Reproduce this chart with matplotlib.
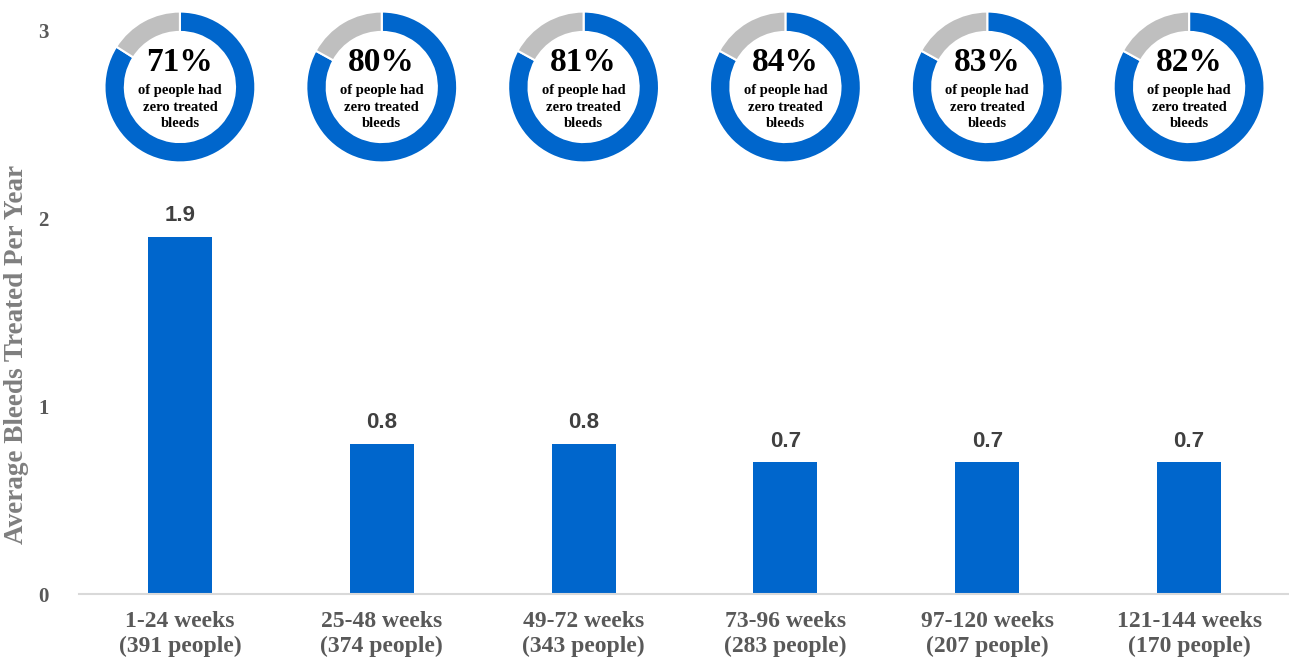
import matplotlib.pyplot as plt

# periods on the x axis
periods = ['1-24 weeks\n(391 people)', '25-48 weeks\n(374 people)', '49-72 weeks\n(343 people)',
           '73-96 weeks\n(283 people)', '97-120 weeks\n(207 people)', '121-144 weeks\n(170 people)']
# average treated bleeds per year
bleeds = [1.9, 0.8, 0.8, 0.7, 0.7, 0.7]
# share with zero treated bleeds (labels)
zero_pct = [71, 80, 81, 84, 83, 82]
# blue share of each ring as drawn in the picture
ring_fill = [0.84, 0.83, 0.83, 0.83, 0.83, 0.83]

blue = '#0066CC'
grey_ring = '#BFBFBF'
serif = 'Liberation Serif'

fig = plt.figure(figsize=(12.89, 6.62), dpi=100)
ax = fig.add_axes([79 / 1289, 68 / 662, 1211 / 1289, 564 / 662])

x = list(range(len(bleeds)))
ax.bar(x, bleeds, width=0.317, color=blue, zorder=2)
for xi, v in zip(x, bleeds):
    ax.text(xi, v + 0.055, f'{v:.1f}', ha='center', va='bottom', fontsize=16,
            fontweight='bold', color='#404040', family='Liberation Sans')

ax.set_xlim(-0.5, len(bleeds) - 0.5)
ax.set_ylim(0, 3)
ax.set_yticks([0, 1, 2, 3])
ax.set_yticklabels(['0', '1', '2', '3'], fontsize=15, fontweight='bold',
                   color='#595959', family=serif)
ax.set_xticks(x)
ax.set_xticklabels(periods, fontsize=17, fontweight='bold', color='#595959',
                   family=serif, linespacing=1.25)
ax.tick_params(length=0)
ax.tick_params(axis='y', pad=22)
ax.tick_params(axis='x', pad=12)
for s in ['top', 'right', 'left']:
    ax.spines[s].set_visible(False)
ax.spines['bottom'].set_color('#D9D9D9')
ax.spines['bottom'].set_linewidth(1.5)

fig.text(17 / 1289, (662 - 354) / 662, 'Average Bleeds Treated Per Year', rotation=90,
         ha='center', va='center', fontsize=19.5, fontweight='bold', color='#7F7F7F',
         family=serif)

# donut rings above the bars
ring_y = (662 - 87 - 68) / 188
ring_w = 151 / 202
ring_h = 151 / 188
for xi, pct, f in zip(x, zero_pct, ring_fill):
    d = ax.inset_axes([xi - ring_w / 2, ring_y - ring_h / 2, ring_w, ring_h],
                      transform=ax.transData)
    d.pie([f, 1 - f], colors=[blue, grey_ring], startangle=90, counterclock=False,
          radius=1, wedgeprops=dict(width=0.27, edgecolor='white', linewidth=1.5))
    d.set_xlim(-1.0, 1.0)
    d.set_ylim(-1.0, 1.0)
    d.set_aspect('equal')
    d.axis('off')
    d.text(0, 0.32, f'{pct}%', ha='center', va='center', fontsize=24,
           fontweight='bold', color='black', family=serif)
    for yy, line in zip([-0.05, -0.27, -0.49], ['of people had', 'zero treated', 'bleeds']):
        d.text(0, yy, line, ha='center', va='center', fontsize=10.5,
               fontweight='bold', color='black', family=serif)

fig.savefig('out.png', dpi=100)
